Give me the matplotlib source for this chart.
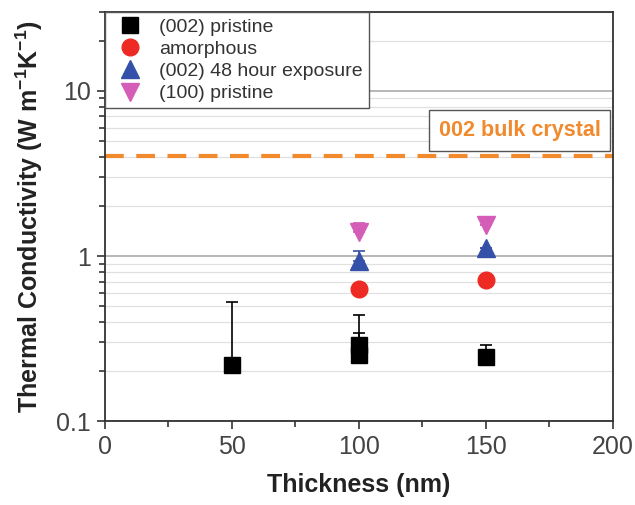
import matplotlib
matplotlib.use("Agg")
import matplotlib.pyplot as plt
from matplotlib.lines import Line2D
from matplotlib.ticker import FixedLocator, FixedFormatter, LogLocator, NullFormatter, MultipleLocator

plt.rcParams['font.family'] = ['Liberation Sans', 'DejaVu Sans']
plt.rcParams['mathtext.fontset'] = 'custom'
plt.rcParams['mathtext.rm'] = 'Liberation Sans'
plt.rcParams['mathtext.bf'] = 'Liberation Sans:bold'

# Data
pristine_x = [50, 100, 100, 150]
pristine_y = [0.22, 0.29, 0.25, 0.245]
pristine_err_up = [0.31, 0.15, 0.09, 0.045]

amorph_x = [100, 150]
amorph_y = [0.63, 0.72]

exp48_x = [100, 150]
exp48_y = [0.93, 1.12]
exp48_err_up = [0.14, 0.0]

p100_x = [100, 150]
p100_y = [1.40, 1.54]
p100_err_up = [0.18, 0.0]

bulk_value = 4.05

series_labels = ['(002) pristine', 'amorphous', '(002) 48 hour exposure', '(100) pristine']
colors = ['black', '#ee2a24', '#3550a8', '#d35db7']
markers = ['s', 'o', '^', 'v']
sizes = [11, 12, 13, 13]

fig = plt.figure(figsize=(6.35, 5.05), dpi=100)
ax = fig.add_axes([0.165, 0.166, 0.800, 0.810])

ax.set_yscale('log')
ax.set_xlim(0, 200)
ax.set_ylim(0.1, 30)

ax.yaxis.set_major_locator(FixedLocator([0.1, 1, 10]))
ax.yaxis.set_major_formatter(FixedFormatter(['0.1', '1', '10']))
ax.yaxis.set_minor_locator(LogLocator(base=10, subs=range(2, 10)))
ax.yaxis.set_minor_formatter(NullFormatter())
ax.grid(True, which='major', axis='y', color='#aaaaaa', lw=1.2, zorder=0)
ax.grid(True, which='minor', axis='y', color='#e0e0e0', lw=0.9, zorder=0)

ax.xaxis.set_major_locator(MultipleLocator(50))
ax.xaxis.set_minor_locator(MultipleLocator(25))

ax.axhline(bulk_value, color='#f08a2c', lw=3, ls=(0, (4.5, 3)), zorder=2)
ax.text(0.976, 0.711, '002 bulk crystal', transform=ax.transAxes, ha='right', va='center',
        fontsize=15.5, fontweight='bold', color='#f08a2c',
        bbox=dict(boxstyle='square,pad=0.45', fc='white', ec='#555555', lw=1.0), zorder=5)

ek = dict(capsize=4, elinewidth=1.2, capthick=1.2, zorder=4)
ax.errorbar(pristine_x, pristine_y, yerr=[[0]*len(pristine_y), pristine_err_up], fmt=markers[0],
            color=colors[0], ms=sizes[0], **ek)
ax.plot(amorph_x, amorph_y, markers[1], color=colors[1], ms=sizes[1], ls='none', zorder=4)
ax.errorbar(exp48_x, exp48_y, yerr=[[0]*len(exp48_y), exp48_err_up], fmt=markers[2],
            color=colors[2], ms=sizes[2], **ek)
ax.errorbar(p100_x, p100_y, yerr=[[0]*len(p100_y), p100_err_up], fmt=markers[3],
            color=colors[3], ms=sizes[3], **ek)

handles = [Line2D([], [], ls='none', marker=m, color=c, ms=s)
           for m, c, s in zip(markers, colors, sizes)]
leg = ax.legend(handles, series_labels, loc='upper left', borderaxespad=0, fontsize=14, frameon=True,
                fancybox=False, edgecolor='#555555', framealpha=1, handletextpad=0.5,
                labelspacing=0.24, borderpad=0.3, handlelength=2.0, labelcolor='#333333')
leg.get_frame().set_linewidth(1.0)
leg.set_zorder(6)

for s in ax.spines.values():
    s.set_color('#333333')
    s.set_linewidth(1.3)

ax.tick_params(axis='both', which='major', direction='out', length=6, width=1.2, labelsize=18,
               colors='#333333', pad=4)
ax.tick_params(axis='both', which='minor', direction='out', length=4, width=1.2, colors='#333333')
ax.tick_params(axis='both', which='major', labelcolor='#444444')

ax.set_xlabel('Thickness (nm)', fontsize=18, fontweight='bold', color='#222222', labelpad=10)
ax.set_ylabel(r'Thermal Conductivity (W m$^{\mathbf{-1}}$K$^{\mathbf{-1}}$)', fontsize=18,
              fontweight='bold', color='#222222', labelpad=8)

fig.savefig('out.png', dpi=100)
